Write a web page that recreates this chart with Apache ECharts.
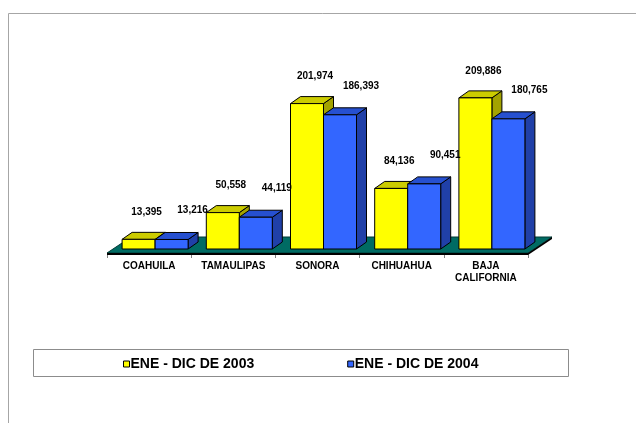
<!DOCTYPE html>
<html>
<head>
<meta charset="utf-8">
<script src="https://cdn.jsdelivr.net/npm/echarts@6/dist/echarts.min.js"></script>
<style>
  html, body { margin: 0; padding: 0; background: #fff; }
  #chart { width: 636px; height: 423px; }
</style>
</head>
<body>
<div id="chart"></div>
<script>
const categories = ['COAHUILA', 'TAMAULIPAS', 'SONORA', 'CHIHUAHUA', 'BAJA\nCALIFORNIA'];
const seriesNames = ['ENE - DIC DE 2003', 'ENE - DIC DE 2004'];
const values2003 = [13395, 50558, 201974, 84136, 209886];
const values2004 = [13216, 44119, 186393, 90451, 180765];

const FONT = "'Liberation Sans', Arial, sans-serif";

// bars sit a little behind the front edge of the floor
const SHIFT_X = 6, SHIFT_Y = -4;
const DEPTH_X = 10, DEPTH_Y = -7;

function fmt(v) {
  return String(v).replace(/\B(?=(\d{3})+(?!\d))/g, ',');
}

function barRenderer(idx, front, topC, sideC, labelDx, labelDy) {
  return function (params, api) {
    const band = api.size([1, 0])[0];
    const w = Math.round(band * 0.39);
    const base = api.coord([api.value(0), 0]);
    const top = api.coord([api.value(0), api.value(1)]);
    const x0 = base[0] + SHIFT_X - (idx === 0 ? w : 0);
    const yb = base[1] + SHIFT_Y;
    const yt = top[1] + SHIFT_Y;
    const line = { stroke: '#000', lineWidth: 1 };
    return {
      type: 'group',
      children: [
        {
          type: 'polygon',
          shape: { points: [[x0 + w, yt], [x0 + w + DEPTH_X, yt + DEPTH_Y], [x0 + w + DEPTH_X, yb + DEPTH_Y], [x0 + w, yb]] },
          style: Object.assign({ fill: sideC }, line)
        },
        {
          type: 'polygon',
          shape: { points: [[x0, yt], [x0 + w, yt], [x0 + w + DEPTH_X, yt + DEPTH_Y], [x0 + DEPTH_X, yt + DEPTH_Y]] },
          style: Object.assign({ fill: topC }, line)
        },
        {
          type: 'rect',
          shape: { x: x0, y: yt, width: w, height: yb - yt },
          style: Object.assign({ fill: front }, line)
        },
        {
          type: 'text',
          z2: 50,
          style: {
            text: fmt(api.value(1)),
            x: x0 + w / 2 + labelDx,
            y: yt + labelDy,
            align: 'center',
            verticalAlign: 'middle',
            fill: '#000',
            font: 'bold 10px ' + FONT
          }
        }
      ]
    };
  };
}

function floorRenderer(params) {
  const cs = params.coordSys;
  const x1 = cs.x, x2 = cs.x + cs.width, y = cs.y + cs.height;
  const dx = 24, dy = -16;
  return {
    type: 'group',
    children: [
      {
        type: 'polygon',
        shape: { points: [[x1, y], [x2, y], [x2 + dx, y + dy], [x1 + dx, y + dy]] },
        style: { fill: '#006b63', stroke: '#003b36', lineWidth: 1 }
      },
      {
        type: 'polygon',
        shape: { points: [[x1, y], [x2, y], [x2 + dx, y + dy], [x2 + dx, y + dy + 2], [x2, y + 2], [x1, y + 2]] },
        style: { fill: '#000' }
      }
    ]
  };
}

const chart = echarts.init(document.getElementById('chart'), null, { renderer: 'canvas' });

chart.setOption({
  animation: false,
  backgroundColor: '#fff',
  textStyle: { fontFamily: FONT },
  graphic: [
    {
      type: 'rect',
      shape: { x: 8.5, y: 13.5, width: 700, height: 500 },
      style: { fill: 'none', stroke: '#a6a6a6', lineWidth: 1 },
      silent: true
    },
    {
      type: 'rect',
      shape: { x: 33.5, y: 349.5, width: 535, height: 27 },
      style: { fill: '#fff', stroke: '#8c8c8c', lineWidth: 1 },
      silent: true,
      z: -1
    }
  ],
  grid: { left: 107, right: 108, top: 73, bottom: 170 },
  legend: {
    data: seriesNames,
    left: 118,
    top: 352,
    itemWidth: 6,
    itemHeight: 6,
    itemGap: 93,
    icon: 'rect',
    itemStyle: { borderColor: '#000', borderWidth: 1 },
    textStyle: { fontSize: 14, fontWeight: 'bold', color: '#000', fontFamily: FONT, padding: [0, 0, 0, -4] }
  },
  xAxis: {
    type: 'category',
    data: categories,
    axisLine: { show: false },
    axisTick: { show: true, length: 5, lineStyle: { color: '#808080' } },
    axisLabel: {
      margin: 7,
      fontSize: 10,
      fontWeight: 'bold',
      lineHeight: 12,
      color: '#000',
      fontFamily: FONT,
      interval: 0
    }
  },
  yAxis: {
    type: 'value',
    min: 0,
    max: 250000,
    show: false,
    splitLine: { show: false }
  },
  series: [
    {
      name: 'floor',
      type: 'custom',
      data: [[0, 0]],
      renderItem: floorRenderer,
      silent: true,
      z: 1
    },
    {
      name: seriesNames[0],
      type: 'custom',
      data: values2003.map((v, i) => [i, v]),
      encode: { x: 0, y: 1 },
      itemStyle: { color: '#ffff00', borderColor: '#000', borderWidth: 1 },
      renderItem: barRenderer(0, '#ffff00', '#cccc00', '#a3a300', 8, -27),
      z: 2
    },
    {
      name: seriesNames[1],
      type: 'custom',
      data: values2004.map((v, i) => [i, v]),
      encode: { x: 0, y: 1 },
      itemStyle: { color: '#3366ff', borderColor: '#000', borderWidth: 1 },
      renderItem: barRenderer(1, '#3366ff', '#2650d0', '#2040a8', 21, -29),
      z: 3
    }
  ]
});
</script>
</body>
</html>
